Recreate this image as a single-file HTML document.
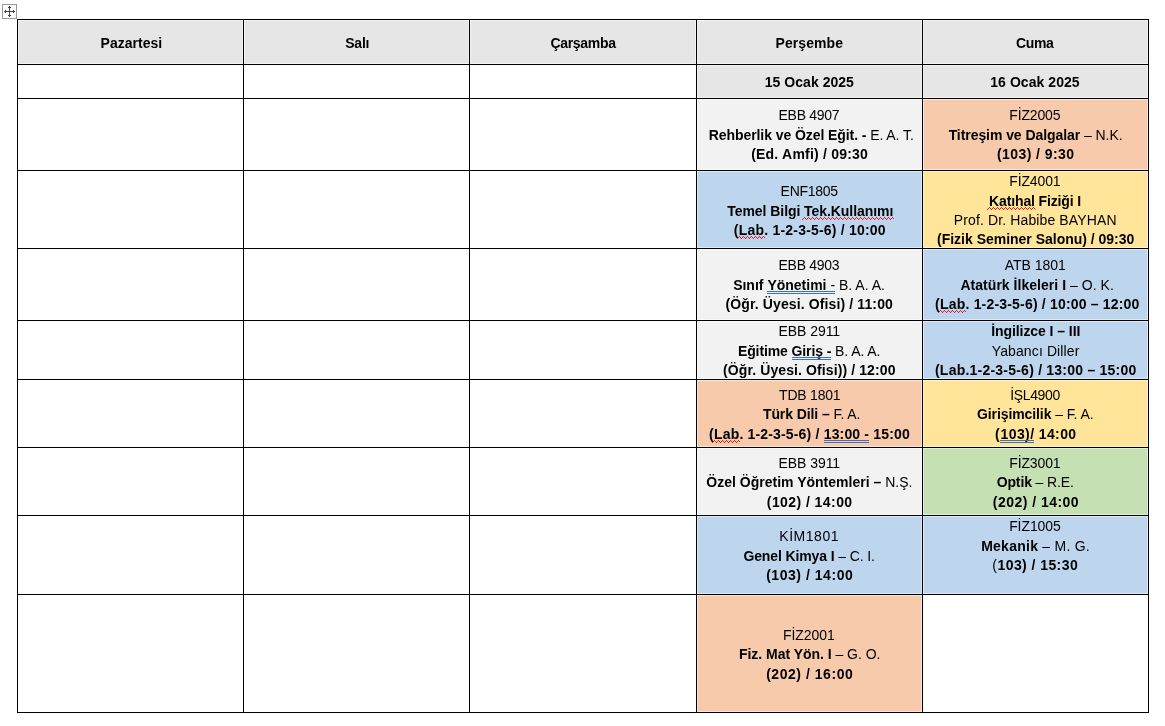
<!DOCTYPE html>
<html lang="tr">
<head>
<meta charset="utf-8">
<title>Sınav Programı</title>
<style>
html,body{margin:0;padding:0;background:#fff}
body{width:1165px;height:726px;position:relative;overflow:hidden;font-family:"Liberation Sans",sans-serif;font-size:14px;color:#000}
#hd{position:absolute;left:2px;top:4px;width:15px;height:15px}
#defs{position:absolute;left:0;top:0}
table{position:absolute;left:17px;top:19px;border-collapse:separate;border-spacing:0;table-layout:fixed;border-top:1px solid #000;border-left:1px solid #000}
td,th{padding:0;margin:0;border-right:1px solid #000;border-bottom:1px solid #000;font-weight:normal;vertical-align:top;overflow:hidden}
.c{position:relative;width:100%;height:100%;box-shadow:inset 0 0 0 1px rgba(255,255,255,.5)}
.c p{position:absolute;left:0;width:100%;margin:0;height:20px;line-height:20px;text-align:center;white-space:nowrap}
b{font-weight:bold}
u{text-decoration:none;position:relative;display:inline-block}
u.sq svg{position:absolute;left:-2px;top:16px;width:calc(100% + 3px);height:3px;overflow:hidden}
u.du::after{content:"";position:absolute;left:0;right:0;top:16px;height:1px;border-top:1px solid #3d6fc4;border-bottom:1px solid #3d6fc4}
</style>
</head>
<body>
<svg id="defs" width="0" height="0"><defs><pattern id="zz" width="4" height="3" patternUnits="userSpaceOnUse"><g fill="#e01b24" shape-rendering="crispEdges"><rect x="0" y="2" width="1" height="1"/><rect x="1" y="1" width="1" height="1"/><rect x="2" y="0" width="1" height="1"/><rect x="3" y="1" width="1" height="1"/></g></pattern></defs></svg>
<svg id="hd" width="15" height="15" viewBox="0 0 15 15" shape-rendering="crispEdges">
<rect x="0.5" y="0.5" width="14" height="14" fill="#fff" stroke="#979797" stroke-width="1"/>
<g fill="#444"><rect x="7" y="2" width="1" height="11"/><rect x="2" y="7" width="11" height="1"/>
<rect x="6" y="3" width="3" height="1"/><rect x="6" y="11" width="3" height="1"/>
<rect x="3" y="6" width="1" height="3"/><rect x="11" y="6" width="1" height="3"/></g>
</svg>
<table>
<colgroup><col style="width:226px"><col style="width:226px"><col style="width:227px"><col style="width:226px"><col style="width:226px"></colgroup>
<tr style="height:45px">
<th style="height:44px;background:#E7E6E6"><div class="c" style="height:44px">
<p style="top:13px;left:0.89px;letter-spacing:0.022px;text-indent:0.022px"><b>Pazartesi</b></p>
</div></th>
<th style="height:44px;background:#E7E6E6"><div class="c" style="height:44px">
<p style="top:13px;left:0.84px;letter-spacing:-0.200px;text-indent:-0.200px"><b>Salı</b></p>
</div></th>
<th style="height:44px;background:#E7E6E6"><div class="c" style="height:44px">
<p style="top:13px;left:0.21px;letter-spacing:-0.293px;text-indent:-0.293px"><b>Çarşamba</b></p>
</div></th>
<th style="height:44px;background:#E7E6E6"><div class="c" style="height:44px">
<p style="top:13px;left:-0.22px;letter-spacing:0.060px;text-indent:0.060px"><b>Perşembe</b></p>
</div></th>
<th style="height:44px;background:#E7E6E6"><div class="c" style="height:44px">
<p style="top:13px;left:-0.61px;letter-spacing:-0.380px;text-indent:-0.380px"><b>Cuma</b></p>
</div></th>
</tr>
<tr style="height:34px">
<td style="height:33px"></td>
<td style="height:33px"></td>
<td style="height:33px"></td>
<td style="height:33px;background:#E7E6E6"><div class="c" style="height:33px">
<p style="top:7px;left:-0.15px;letter-spacing:0.035px;text-indent:0.035px"><b>15 Ocak 2025</b></p>
</div></td>
<td style="height:33px;background:#E7E6E6"><div class="c" style="height:33px">
<p style="top:7px;left:-0.55px;letter-spacing:0.056px;text-indent:0.056px"><b>16 Ocak 2025</b></p>
</div></td>
</tr>
<tr style="height:72px">
<td style="height:71px"></td>
<td style="height:71px"></td>
<td style="height:71px"></td>
<td style="height:71px;background:#F2F2F2"><div class="c" style="height:71px">
<p style="top:6px;left:-0.43px;letter-spacing:-0.272px;text-indent:-0.272px">EBB 4907</p>
<p style="top:26px;left:1.78px;letter-spacing:-0.074px;text-indent:-0.074px"><b>Rehberlik ve Özel Eğit. -</b> E. A. T.</p>
<p style="top:45px;left:0.06px;letter-spacing:0.215px;text-indent:0.215px"><b>(Ed. Amfi) / 09:30</b></p>
</div></td>
<td style="height:71px;background:#F7CAAC"><div class="c" style="height:71px">
<p style="top:6px;left:-0.61px;letter-spacing:-0.165px;text-indent:-0.165px">FİZ2005</p>
<p style="top:26px;left:0.10px;letter-spacing:-0.065px;text-indent:-0.065px"><b>Titreşim ve Dalgalar</b> – N.K.</p>
<p style="top:45px;left:0.02px;letter-spacing:0.420px;text-indent:0.420px"><b>(103) / 9:30</b></p>
</div></td>
</tr>
<tr style="height:78px">
<td style="height:77px"></td>
<td style="height:77px"></td>
<td style="height:77px"></td>
<td style="height:77px;background:#BDD6EE"><div class="c" style="height:77px">
<p style="top:10px;left:-0.13px;letter-spacing:-0.272px;text-indent:-0.272px">ENF1805</p>
<p style="top:30px;left:0.84px;letter-spacing:-0.059px;text-indent:-0.059px"><b>Temel Bilgi <u class="sq">Tek.Kullanımı<svg><rect width="100%" height="3" fill="url(#zz)"/></svg></u></b></p>
<p style="top:49px;left:0.19px;letter-spacing:0.199px;text-indent:0.199px"><b>(<u class="sq">Lab<svg><rect width="100%" height="3" fill="url(#zz)"/></svg></u>. 1-2-3-5-6) / 10:00</b></p>
</div></td>
<td style="height:77px;background:#FFE599"><div class="c" style="height:77px">
<p style="top:0px;left:-0.57px;letter-spacing:-0.156px;text-indent:-0.156px">FİZ4001</p>
<p style="top:20px;left:-0.33px;letter-spacing:-0.144px;text-indent:-0.144px"><b><u class="sq">Katıhal<svg><rect width="100%" height="3" fill="url(#zz)"/></svg></u> Fiziği I</b></p>
<p style="top:39px;left:-0.35px;letter-spacing:0.124px;text-indent:0.124px">Prof. Dr. Habibe BAYHAN</p>
<p style="top:58px;left:0.18px;letter-spacing:-0.014px;text-indent:-0.014px"><b>(Fizik Seminer Salonu) / 09:30</b></p>
</div></td>
</tr>
<tr style="height:72px">
<td style="height:71px"></td>
<td style="height:71px"></td>
<td style="height:71px"></td>
<td style="height:71px;background:#F2F2F2"><div class="c" style="height:71px">
<p style="top:6px;left:-0.44px;letter-spacing:-0.274px;text-indent:-0.274px">EBB 4903</p>
<p style="top:26px;left:-0.49px"><b>Sınıf </b><u class="du"><b>Yönetimi</b> -</u> B. A. A.</p>
<p style="top:45px;left:-0.33px;letter-spacing:0.121px;text-indent:0.121px"><b>(Öğr. Üyesi. Ofisi) / 11:00</b></p>
</div></td>
<td style="height:71px;background:#BDD6EE"><div class="c" style="height:71px">
<p style="top:6px;left:-0.27px;letter-spacing:-0.021px;text-indent:-0.021px">ATB 1801</p>
<p style="top:26px;left:1.67px;letter-spacing:0.037px;text-indent:0.037px"><b>Atatürk İlkeleri I</b> – O. K.</p>
<p style="top:45px;left:1.71px;letter-spacing:0.186px;text-indent:0.186px"><b>(<u class="sq">Lab<svg><rect width="100%" height="3" fill="url(#zz)"/></svg></u>. 1-2-3-5-6) / 10:00 – 12:00</b></p>
</div></td>
</tr>
<tr style="height:59px">
<td style="height:58px"></td>
<td style="height:58px"></td>
<td style="height:58px"></td>
<td style="height:58px;background:#F2F2F2"><div class="c" style="height:58px">
<p style="top:0px;left:-0.19px;letter-spacing:-0.057px;text-indent:-0.057px">EBB 2911</p>
<p style="top:20px;left:-0.37px;letter-spacing:-0.095px;text-indent:-0.095px"><b>Eğitime <u class="du">Giriş -</u></b> B. A. A.</p>
<p style="top:39px;left:-0.25px;letter-spacing:0.104px;text-indent:0.104px"><b>(Öğr. Üyesi. Ofisi)) / 12:00</b></p>
</div></td>
<td style="height:58px;background:#BDD6EE"><div class="c" style="height:58px">
<p style="top:0px;left:0.26px;letter-spacing:-0.065px;text-indent:-0.065px"><b>İngilizce I – III</b></p>
<p style="top:20px;left:0.07px;letter-spacing:0.114px;text-indent:0.114px">Yabancı Diller</p>
<p style="top:39px;left:0.12px;letter-spacing:0.224px;text-indent:0.224px"><b>(Lab.1-2-3-5-6) / 13:00 – 15:00</b></p>
</div></td>
</tr>
<tr style="height:68px">
<td style="height:67px"></td>
<td style="height:67px"></td>
<td style="height:67px"></td>
<td style="height:67px;background:#F7CAAC"><div class="c" style="height:67px">
<p style="top:5px;left:0.32px;letter-spacing:-0.216px;text-indent:-0.216px">TDB 1801</p>
<p style="top:24px;left:2.17px;letter-spacing:-0.083px;text-indent:-0.083px"><b>Türk Dili –</b> F. A.</p>
<p style="top:44px;left:-0.11px;letter-spacing:0.162px;text-indent:0.162px"><b>(<u class="sq">Lab<svg><rect width="100%" height="3" fill="url(#zz)"/></svg></u>. 1-2-3-5-6) / <u class="du">13:00 -</u> 15:00</b></p>
</div></td>
<td style="height:67px;background:#FFE599"><div class="c" style="height:67px">
<p style="top:5px;left:-0.24px;letter-spacing:-0.384px;text-indent:-0.384px">İŞL4900</p>
<p style="top:24px;left:-0.24px;letter-spacing:-0.084px;text-indent:-0.084px"><b>Girişimcilik</b> – F. A.</p>
<p style="top:44px;left:0.10px;letter-spacing:0.398px;text-indent:0.398px"><b>(<u class="du">103)/</u> 14:00</b></p>
</div></td>
</tr>
<tr style="height:68px">
<td style="height:67px"></td>
<td style="height:67px"></td>
<td style="height:67px"></td>
<td style="height:67px;background:#F2F2F2"><div class="c" style="height:67px">
<p style="top:5px;left:-0.19px;letter-spacing:-0.057px;text-indent:-0.057px">EBB 3911</p>
<p style="top:24px;left:-0.15px;letter-spacing:0.007px;text-indent:0.007px"><b>Özel Öğretim Yöntemleri –</b> N.Ş.</p>
<p style="top:44px;left:-0.03px;letter-spacing:0.432px;text-indent:0.432px"><b>(102) / 14:00</b></p>
</div></td>
<td style="height:67px;background:#C5E0B3"><div class="c" style="height:67px">
<p style="top:5px;left:-0.57px;letter-spacing:-0.156px;text-indent:-0.156px">FİZ3001</p>
<p style="top:24px;left:-0.24px;letter-spacing:-0.123px;text-indent:-0.123px"><b>Optik</b> – R.E.</p>
<p style="top:44px;left:0.19px;letter-spacing:0.474px;text-indent:0.474px"><b>(202) / 14:00</b></p>
</div></td>
</tr>
<tr style="height:79px">
<td style="height:78px"></td>
<td style="height:78px"></td>
<td style="height:78px"></td>
<td style="height:78px;background:#BDD6EE"><div class="c" style="height:78px">
<p style="top:10px;left:-0.58px;letter-spacing:0.511px;text-indent:0.511px">KİM1801</p>
<p style="top:30px;left:-0.34px;letter-spacing:-0.117px;text-indent:-0.117px"><b>Genel Kimya I</b> – C. I.</p>
<p style="top:49px;left:-0.06px;letter-spacing:0.539px;text-indent:0.539px"><b>(103) / 14:00</b></p>
</div></td>
<td style="height:78px;background:#BDD6EE"><div class="c" style="height:78px">
<p style="top:0px;left:-0.53px;letter-spacing:-0.074px;text-indent:-0.074px">FİZ1005</p>
<p style="top:20px;left:-0.06px;letter-spacing:0.249px;text-indent:0.249px"><b>Mekanik</b> – M. G.</p>
<p style="top:39px;left:-0.46px;letter-spacing:0.432px;text-indent:0.432px">(<b>103) / 15:30</b></p>
</div></td>
</tr>
<tr style="height:118px">
<td style="height:117px"></td>
<td style="height:117px"></td>
<td style="height:117px"></td>
<td style="height:117px;background:#F7CAAC"><div class="c" style="height:117px">
<p style="top:30px;left:-0.60px;letter-spacing:-0.039px;text-indent:-0.039px">FİZ2001</p>
<p style="top:49px;left:0.19px;letter-spacing:-0.025px;text-indent:-0.025px"><b>Fiz. Mat Yön. I</b> – G. O.</p>
<p style="top:69px;left:-0.06px;letter-spacing:0.538px;text-indent:0.538px"><b>(202) / 16:00</b></p>
</div></td>
<td style="height:117px"></td>
</tr>
</table>
</body>
</html>
